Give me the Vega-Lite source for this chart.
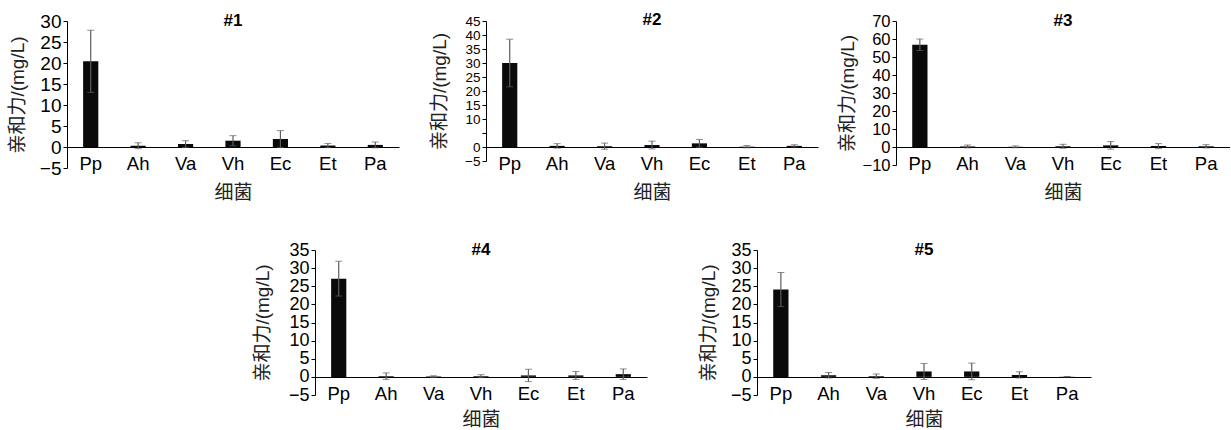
{
  "$schema": "https://vega.github.io/schema/vega-lite/v6.json",
  "padding": {"left": 8, "top": 11, "right": 0, "bottom": 0},
  "config": {
    "view": {"stroke": null},
    "font": "Liberation Sans, Noto Sans CJK SC",
    "axis": {"grid": false, "domainColor": "#000", "tickColor": "#000", "labelColor": "#000", "titleColor": "#222", "titleFontWeight": "normal"},
    "axisX": {"ticks": false, "labelAngle": 0, "labelFontSize": 18.5, "labelPadding": 7, "titleFontSize": 19, "titlePadding": 11},
    "axisY": {"tickSize": 4, "labelPadding": 2, "labelOverlap": false, "titleFontSize": 19, "titleAngle": -90, "titleBaseline": "middle", "titleAlign": "center"},
    "title": {"fontSize": 17, "fontWeight": "bold", "frame": "group", "color": "#000"}
  },
  "datasets": {
    "p1": [
      {"bac": "Pp", "mean": 20.4, "err": 7.4},
      {"bac": "Ah", "mean": 0.3, "err": 0.7},
      {"bac": "Va", "mean": 0.7, "err": 0.8},
      {"bac": "Vh", "mean": 1.5, "err": 1.2},
      {"bac": "Ec", "mean": 1.9, "err": 2.0},
      {"bac": "Et", "mean": 0.35, "err": 0.5},
      {"bac": "Pa", "mean": 0.5, "err": 0.7}
    ],
    "p2": [
      {"bac": "Pp", "mean": 30.0, "err": 8.5},
      {"bac": "Ah", "mean": 0.4, "err": 0.8},
      {"bac": "Va", "mean": 0.3, "err": 1.1},
      {"bac": "Vh", "mean": 0.7, "err": 1.4},
      {"bac": "Ec", "mean": 1.3, "err": 1.4},
      {"bac": "Et", "mean": 0.1, "err": 0.4},
      {"bac": "Pa", "mean": 0.4, "err": 0.4}
    ],
    "p3": [
      {"bac": "Pp", "mean": 56.8, "err": 3.2},
      {"bac": "Ah", "mean": 0.3, "err": 0.8},
      {"bac": "Va", "mean": 0.1, "err": 0.5},
      {"bac": "Vh", "mean": 0.4, "err": 1.1},
      {"bac": "Ec", "mean": 0.9, "err": 2.1},
      {"bac": "Et", "mean": 0.5, "err": 1.4},
      {"bac": "Pa", "mean": 0.4, "err": 0.9}
    ],
    "p4": [
      {"bac": "Pp", "mean": 27.1, "err": 4.8},
      {"bac": "Ah", "mean": 0.2, "err": 0.9},
      {"bac": "Va", "mean": 0.1, "err": 0.2},
      {"bac": "Vh", "mean": 0.2, "err": 0.4},
      {"bac": "Ec", "mean": 0.4, "err": 1.7},
      {"bac": "Et", "mean": 0.4, "err": 1.1},
      {"bac": "Pa", "mean": 0.75, "err": 1.45}
    ],
    "p5": [
      {"bac": "Pp", "mean": 24.1, "err": 4.7},
      {"bac": "Ah", "mean": 0.45, "err": 0.75},
      {"bac": "Va", "mean": 0.2, "err": 0.6},
      {"bac": "Vh", "mean": 1.5, "err": 2.2},
      {"bac": "Ec", "mean": 1.5, "err": 2.3},
      {"bac": "Et", "mean": 0.55, "err": 0.85},
      {"bac": "Pa", "mean": 0.05, "err": 0.05}
    ]
  },
  "spacing": 37,
  "vconcat": [
    {
      "bounds": "flush",
      "spacing": 87,
      "hconcat": [
        {
          "width": 332, "height": 147,
          "data": {"name": "p1"},
          "title": {"text": "#1", "offset": -18},
          "encoding": {
            "x": {"field": "bac", "type": "nominal", "sort": null, "scale": {"paddingInner": 0.68, "paddingOuter": 0.34}, "axis": {"title": "细菌", "offset": -21}},
            "y": {"field": "mean", "type": "quantitative", "scale": {"domain": [-5, 30], "nice": false, "zero": false},
              "axis": {"values": [-5, 0, 5, 10, 15, 20, 25, 30], "labelFontSize": 19, "title": "亲和力/(mg/L)", "titleX": -49.5, "titleY": 73.5}}
          },
          "layer": [
            {"mark": {"type": "bar", "color": "#0a0a0a"}},
            {"mark": {"type": "errorbar", "color": "#5e5e5e", "ticks": {"size": 7, "color": "#5e5e5e"}, "rule": {"color": "#5e5e5e", "strokeWidth": 1.2}},
             "encoding": {"yError": {"field": "err"}}}
          ]
        },
        {
          "bounds": "flush",
          "spacing": 78,
          "hconcat": [
            {
              "width": 332, "height": 140,
              "data": {"name": "p2"},
              "title": {"text": "#2", "offset": -15},
              "encoding": {
                "x": {"field": "bac", "type": "nominal", "sort": null, "scale": {"paddingInner": 0.68, "paddingOuter": 0.34}, "axis": {"title": "细菌", "offset": -14}},
                "y": {"field": "mean", "type": "quantitative", "scale": {"domain": [-5, 45], "nice": false, "zero": false},
                  "axis": {"values": [-5, 0, 5, 10, 15, 20, 25, 30, 35, 40, 45], "labelExpr": "datum.value == 5 ? '' : datum.label", "labelFontSize": 13.5, "title": "亲和力/(mg/L)", "titleX": -47, "titleY": 70}}
              },
              "layer": [
                {"mark": {"type": "bar", "color": "#0a0a0a"}},
                {"mark": {"type": "errorbar", "color": "#5e5e5e", "ticks": {"size": 7, "color": "#5e5e5e"}, "rule": {"color": "#5e5e5e", "strokeWidth": 1.2}},
                 "encoding": {"yError": {"field": "err"}}}
              ]
            },
            {
              "width": 334, "height": 144,
              "data": {"name": "p3"},
              "title": {"text": "#3", "offset": -17},
              "encoding": {
                "x": {"field": "bac", "type": "nominal", "sort": null, "scale": {"paddingInner": 0.68, "paddingOuter": 0.34}, "axis": {"title": "细菌", "offset": -18}},
                "y": {"field": "mean", "type": "quantitative", "scale": {"domain": [-10, 70], "nice": false, "zero": false},
                  "axis": {"values": [-10, 0, 10, 20, 30, 40, 50, 60, 70], "labelFontSize": 16.5, "title": "亲和力/(mg/L)", "titleX": -49, "titleY": 72}}
              },
              "layer": [
                {"mark": {"type": "bar", "color": "#0a0a0a"}},
                {"mark": {"type": "errorbar", "color": "#5e5e5e", "ticks": {"size": 7, "color": "#5e5e5e"}, "rule": {"color": "#5e5e5e", "strokeWidth": 1.2}},
                 "encoding": {"yError": {"field": "err"}}}
              ]
            }
          ]
        }
      ]
    },
    {
      "bounds": "flush",
      "spacing": 110,
      "hconcat": [
        {"width": 137.5, "height": 145, "view": {"fill": "#ffffff", "stroke": null}, "data": {"values": []}, "mark": "point"},
        {
          "width": 332, "height": 145,
          "data": {"name": "p4"},
          "title": {"text": "#4", "offset": -17.5},
          "encoding": {
            "x": {"field": "bac", "type": "nominal", "sort": null, "scale": {"paddingInner": 0.68, "paddingOuter": 0.34}, "axis": {"title": "细菌", "offset": -18, "titlePadding": 8}},
            "y": {"field": "mean", "type": "quantitative", "scale": {"domain": [-5, 35], "nice": false, "zero": false},
              "axis": {"values": [-5, 0, 5, 10, 15, 20, 25, 30, 35], "labelFontSize": 18, "title": "亲和力/(mg/L)", "titleX": -53, "titleY": 72.5}}
          },
          "layer": [
            {"mark": {"type": "bar", "color": "#0a0a0a"}},
            {"mark": {"type": "errorbar", "color": "#5e5e5e", "ticks": {"size": 7, "color": "#5e5e5e"}, "rule": {"color": "#5e5e5e", "strokeWidth": 1.2}},
             "encoding": {"yError": {"field": "err"}}}
          ]
        },
        {
          "width": 334, "height": 145,
          "data": {"name": "p5"},
          "title": {"text": "#5", "offset": -17.5},
          "encoding": {
            "x": {"field": "bac", "type": "nominal", "sort": null, "scale": {"paddingInner": 0.68, "paddingOuter": 0.34}, "axis": {"title": "细菌", "offset": -18, "titlePadding": 8}},
            "y": {"field": "mean", "type": "quantitative", "scale": {"domain": [-5, 35], "nice": false, "zero": false},
              "axis": {"values": [-5, 0, 5, 10, 15, 20, 25, 30, 35], "labelFontSize": 18, "title": "亲和力/(mg/L)", "titleX": -49, "titleY": 72.5}}
          },
          "layer": [
            {"mark": {"type": "bar", "color": "#0a0a0a"}},
            {"mark": {"type": "errorbar", "color": "#5e5e5e", "ticks": {"size": 7, "color": "#5e5e5e"}, "rule": {"color": "#5e5e5e", "strokeWidth": 1.2}},
             "encoding": {"yError": {"field": "err"}}}
          ]
        }
      ]
    }
  ]
}
